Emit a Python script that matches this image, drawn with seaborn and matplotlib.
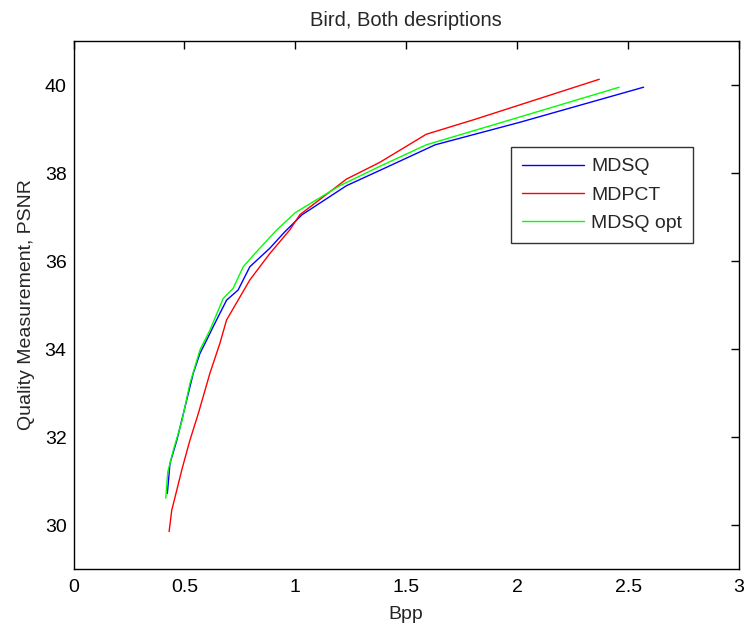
import matplotlib
matplotlib.use("Agg")
import matplotlib.pyplot as plt
import seaborn as sns
import pandas as pd

# --- data ---
mdsq_x = [0.423, 0.435, 0.466, 0.503, 0.54, 0.57, 0.60, 0.63, 0.69, 0.742, 0.795, 0.885, 0.95, 1.03, 1.23, 1.42, 1.63, 2.01, 2.57]
mdsq_y = [30.72, 31.40, 31.93, 32.69, 33.45, 33.90, 34.20, 34.51, 35.11, 35.34, 35.87, 36.29, 36.65, 37.05, 37.71, 38.15, 38.64, 39.15, 39.95]

mdpct_x = [0.431, 0.443, 0.466, 0.488, 0.525, 0.563, 0.615, 0.66, 0.69, 0.795, 0.885, 0.974, 1.02, 1.23, 1.38, 1.59, 1.81, 2.37]
mdpct_y = [29.85, 30.34, 30.80, 31.25, 31.93, 32.54, 33.45, 34.13, 34.66, 35.57, 36.17, 36.70, 37.05, 37.86, 38.24, 38.88, 39.22, 40.13]

opt_x = [0.416, 0.425, 0.45, 0.488, 0.525, 0.57, 0.615, 0.675, 0.72, 0.765, 0.825, 0.915, 1.0, 1.2, 1.38, 1.59, 2.01, 2.46]
opt_y = [30.61, 31.21, 31.70, 32.35, 33.22, 33.98, 34.43, 35.15, 35.38, 35.87, 36.21, 36.70, 37.10, 37.71, 38.15, 38.64, 39.27, 39.95]

series_names = ["MDSQ", "MDPCT", "MDSQ opt"]
x_ticks = [0, 0.5, 1, 1.5, 2, 2.5, 3]
x_tick_labels = ["0", "0.5", "1", "1.5", "2", "2.5", "3"]
y_ticks = [30, 32, 34, 36, 38, 40]
y_tick_labels = ["30", "32", "34", "36", "38", "40"]

frames = []
for name, xs, ys in zip(series_names, [mdsq_x, mdpct_x, opt_x], [mdsq_y, mdpct_y, opt_y]):
    frames.append(pd.DataFrame({"Bpp": xs, "PSNR": ys, "method": name}))
df = pd.concat(frames, ignore_index=True)

sns.set_style("white")
plt.rcParams["font.family"] = ["Liberation Sans", "DejaVu Sans"]

fig = plt.figure(figsize=(7.45, 6.25), dpi=100)
ax = fig.add_axes([73.5 / 745, 56 / 625, (739 - 73.5) / 745, 528 / 625])

palette = {"MDSQ": "#0000ff", "MDPCT": "#ff0000", "MDSQ opt": "#00ff00"}
sns.lineplot(data=df, x="Bpp", y="PSNR", hue="method", hue_order=series_names,
             palette=palette, sort=False, estimator=None, linewidth=1.0, ax=ax)

ax.set_xlim(0, 3)
ax.set_ylim(29, 41)
ax.set_xticks(x_ticks)
ax.set_xticklabels(x_tick_labels)
ax.set_yticks(y_ticks)
ax.set_yticklabels(y_tick_labels)
ax.tick_params(direction="in", length=6, width=1, top=True, right=True,
               labelsize=14, colors="black")
ax.tick_params(axis="x", pad=7)
ax.tick_params(axis="y", pad=5)
for s in ax.spines.values():
    s.set_visible(True)
    s.set_color("black")
    s.set_linewidth(1.0)

ax.set_title("Bird, Both desriptions", fontsize=14.5, pad=10.5)
ax.set_xlabel("Bpp", fontsize=14, labelpad=7.5)
ax.set_ylabel("Quality Measurement, PSNR", fontsize=14, labelpad=7)

leg = ax.legend(loc="upper left", bbox_to_anchor=(0.658, 0.799), fontsize=14,
                frameon=True, fancybox=False, shadow=False, handlelength=3.2,
                handletextpad=0.35, borderpad=0.55, labelspacing=0.55,
                borderaxespad=0.0, title=None)
leg.get_frame().set_edgecolor("black")
leg.get_frame().set_linewidth(1.0)

fig.savefig("out.png", dpi=100)
